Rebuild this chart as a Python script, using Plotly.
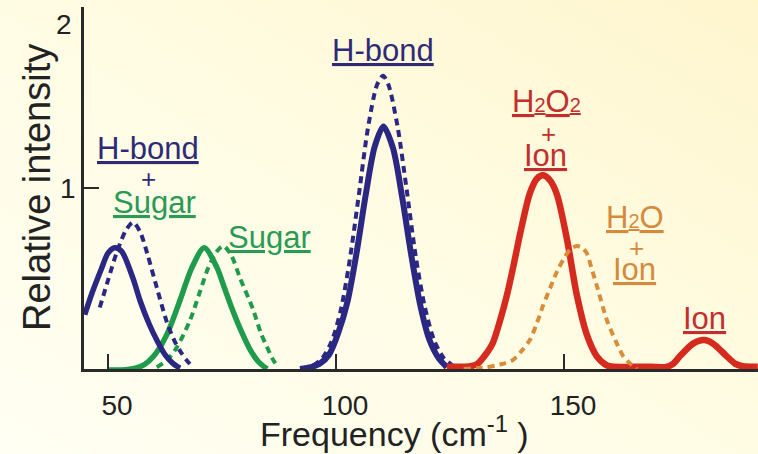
import base64
import plotly.graph_objects as go

# ---------------- data ----------------
x_ticks = [50, 100, 150]
x_tick_labels = ["50", "100", "150"]
y_ticks = [1, 2]
y_tick_labels = ["1", "2"]

# low-frequency H-bond + Sugar (solid) and its dotted counterpart
hb_low_x = [44.9, 46.5, 48.5, 50, 51.5, 53, 55.5, 57, 59, 60.7, 62.5, 64.3, 65.8]
hb_low_y = [0.30, 0.42, 0.55, 0.64, 0.67, 0.65, 0.50, 0.38, 0.25, 0.16, 0.08, 0.03, 0.005]
hb_low_dot_x = [48.2, 50, 52, 54, 55.5, 57, 58.7, 60.7, 62.9, 64.5, 65.8, 67.2, 68.6]
hb_low_dot_y = [0.34, 0.49, 0.65, 0.77, 0.81, 0.76, 0.63, 0.45, 0.26, 0.16, 0.10, 0.05, 0.01]

# Sugar
sugar_x = [50, 53, 56, 58, 60, 62.9, 65.8, 68.4, 71.1, 73.9, 75.5, 77.4, 79.2, 81.1, 83, 84.9]
sugar_y = [-0.005, -0.005, 0.005, 0.025, 0.07, 0.19, 0.38, 0.56, 0.67, 0.56, 0.45, 0.32, 0.21, 0.11, 0.04, 0.0]
sugar_dot_x = [60.7, 63, 65.1, 68, 70.2, 72, 73.9, 75.3, 77, 79, 81.8, 83.5, 84.9, 86, 87]
sugar_dot_y = [0.01, 0.05, 0.12, 0.27, 0.43, 0.56, 0.65, 0.68, 0.63, 0.50, 0.33, 0.20, 0.12, 0.06, 0.02]

# main H-bond
hb_x = [92.1, 94.5, 96.5, 98.5, 100.5, 102.5, 104.5, 106.5, 108.5, 110.4,
        112.5, 114.5, 116.5, 118.5, 120.5, 122.5, 124.3]
hb_y = [0.0, 0.01, 0.03, 0.08, 0.20, 0.37, 0.64, 0.96, 1.23, 1.34,
        1.22, 0.95, 0.63, 0.35, 0.16, 0.06, 0.01]
hb_dot_x = [95, 97, 99, 101, 103, 105, 107, 109, 110.3, 111.5, 113.5, 115.5,
            117.5, 119.5, 121.5, 123.5, 125.5]
hb_dot_y = [0.02, 0.06, 0.15, 0.32, 0.60, 0.96, 1.33, 1.57, 1.62, 1.57, 1.34, 0.99,
            0.62, 0.34, 0.16, 0.065, 0.02]

# H2O2 + Ion and Ion (solid red)
ion_x = [124.3, 127, 129.5, 131.1, 132.8, 134.4, 136, 137.5, 139, 140.4, 142.5, 144,
         145.4, 147, 148.5, 150.7, 152.8, 155, 157.2, 159.4, 161, 165, 169, 172.5,
         174, 175.4, 178.3, 180.7, 182.7, 185.7, 187.5, 189.2, 192.5]
ion_y = [0.012, 0.012, 0.015, 0.03, 0.08, 0.145, 0.27, 0.41, 0.58, 0.75, 0.97, 1.05,
         1.07, 1.04, 0.96, 0.71, 0.41, 0.19, 0.07, 0.02, 0.012, 0.012, 0.012, 0.012,
         0.03, 0.07, 0.14, 0.16, 0.14, 0.07, 0.03, 0.015, 0.012]

# H2O + Ion (dotted orange)
water_x = [128, 131, 133.1, 136, 138.8, 140.7, 142.5, 144, 145.4, 147, 148.5, 150.2,
           151.5, 152.8, 154, 155, 156, 157.2, 159.4, 161.6, 163, 164.5, 166]
water_y = [0.0, 0.005, 0.01, 0.025, 0.05, 0.10, 0.16, 0.25, 0.35, 0.45, 0.54, 0.62,
           0.665, 0.68, 0.67, 0.64, 0.56, 0.46, 0.27, 0.14, 0.07, 0.03, 0.0]

# ---------------- styling ----------------
NAVY = "#2B2883"
GREEN = "#1E9B4B"
RED = "#D52B1E"
ORANGE = "#D98C3A"
T_NAVY = "#2E2A78"
T_GREEN = "#2A9A55"
T_RED = "#C22F2F"
T_ORANGE = "#D48A3C"
FONT = "Liberation Sans, Arial, sans-serif"
DOT = "7px,5px"

fig = go.Figure()

def add(x, y, color, width, dash=None):
    line = dict(color=color, width=width, shape="spline", smoothing=0.8)
    if dash:
        line["dash"] = dash
    fig.add_trace(go.Scatter(x=x, y=y, mode="lines", line=line,
                             hoverinfo="skip", showlegend=False))

add(sugar_x, sugar_y, GREEN, 5.5)
add(sugar_dot_x, sugar_dot_y, GREEN, 4, DOT)
add(hb_low_x, hb_low_y, NAVY, 5.5)
add(hb_low_dot_x, hb_low_dot_y, NAVY, 4, DOT)
add(hb_x, hb_y, NAVY, 6)
add(hb_dot_x, hb_dot_y, NAVY, 4, DOT)
add(ion_x, ion_y, RED, 6.5)
add(water_x, water_y, ORANGE, 4, DOT)

def label(x, y, text, color, size=31):
    fig.add_annotation(x=x, y=y, xref="x", yref="y", text=text, showarrow=False,
                       font=dict(family=FONT, size=size, color=color),
                       xanchor="center", yanchor="middle")

sub = "<span style='font-size:20px'>2</span>"
label(58.8, 1.22, "<u>H-bond</u>", T_NAVY)
label(58.8, 1.05, "+", T_NAVY, 26)
label(60.1, 0.92, "<u>Sugar</u>", T_GREEN)
label(85.5, 0.725, "<u>Sugar</u>", T_GREEN)
label(110.3, 1.76, "<u>H-bond</u>", T_NAVY)
label(146.1, 1.48, "<u>H" + sub + "O" + sub + "</u>", T_RED)
label(146.5, 1.30, "+", T_RED, 26)
label(145.9, 1.18, "<u>Ion</u>", T_RED)
label(165.6, 0.835, "<u>H" + sub + "O</u>", T_ORANGE)
label(166.0, 0.67, "+", T_ORANGE, 26)
label(165.4, 0.55, "<u>Ion</u>", T_ORANGE)
label(180.9, 0.28, "<u>Ion</u>", T_RED)

TICKFONT = dict(family=FONT, size=28, color="#222222")
# the top tick label sits a little below its tick in the reference
fig.add_annotation(xref="paper", yref="y", x=0, y=y_ticks[1], xshift=-10, yshift=-17,
                   text=y_tick_labels[1], showarrow=False, font=TICKFONT,
                   xanchor="right", yanchor="middle")

# axis titles
fig.add_annotation(xref="paper", yref="paper", x=0, y=0.5, xshift=-47,
                   text="Relative intensity", textangle=-90, showarrow=False,
                   font=dict(family=FONT, size=38, color="#222222"),
                   xanchor="center", yanchor="middle")
fig.add_annotation(xref="paper", yref="paper", x=0.461, y=0, yshift=-62,
                   text="Frequency (cm<sup>-1</sup> )", showarrow=False,
                   font=dict(family=FONT, size=34, color="#222222"),
                   xanchor="center", yanchor="middle")

# background gradient
svg = ('<svg xmlns="http://www.w3.org/2000/svg" width="758" height="454">'
       '<defs><linearGradient id="g" x1="0" y1="1" x2="1" y2="0">'
       '<stop offset="0" stop-color="#FFFFF3"/><stop offset="0.5" stop-color="#FFFCE4"/>'
       '<stop offset="1" stop-color="#FFF6CE"/></linearGradient></defs>'
       '<rect width="758" height="454" fill="url(#g)"/></svg>')
src = "data:image/svg+xml;base64," + base64.b64encode(svg.encode()).decode()
PW, PH = 674, 362
fig.add_layout_image(source=src, xref="paper", yref="paper", x=-84 / PW, y=1 + 7 / PH,
                     sizex=758 / PW, sizey=454 / PH, xanchor="left", yanchor="top",
                     sizing="stretch", layer="below")

axis_common = dict(showgrid=False, zeroline=False, showline=True, linewidth=2.5,
                   linecolor="#2a2a2a", ticks="inside", ticklen=15, tickwidth=2,
                   tickcolor="#2a2a2a", tickfont=TICKFONT, automargin=False)

fig.update_layout(
    width=758, height=454,
    margin=dict(l=84, r=0, t=7, b=85, autoexpand=False),
    paper_bgcolor="#FFFCE6",
    plot_bgcolor="rgba(0,0,0,0)",
    xaxis=dict(range=[44.74, 192.54], tickvals=x_ticks, ticktext=x_tick_labels,
               ticklabelstandoff=10, ticklabelshift=9, **axis_common),
    yaxis=dict(range=[0, 2], tickvals=y_ticks[:1], ticktext=y_tick_labels[:1],
               ticklabelstandoff=0,
               minor=dict(tickmode="array", tickvals=y_ticks[1:], ticks="inside",
                          ticklen=15, tickwidth=2, tickcolor="#2a2a2a", showgrid=False),
               **axis_common),
)

fig.write_html("out.html", config={"displayModeBar": False},
               post_script="document.body.style.margin='0px';"
                           "document.body.style.overflow='hidden';")
